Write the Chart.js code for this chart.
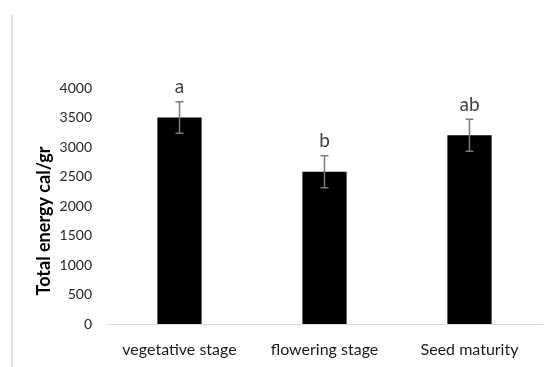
<!DOCTYPE html>
<html lang="en">
<head>
<meta charset="UTF-8">
<title>Total energy</title>
<script src="https://cdn.jsdelivr.net/npm/chart.js@4.4.0/dist/chart.umd.min.js"></script>
<style>
  html, body { margin: 0; padding: 0; background: #fff; }
  #wrap { width: 554px; height: 367px; }
</style>
</head>
<body>
<div id="wrap"><canvas id="energy"></canvas></div>
<script>
const stages = ['vegetative stage', 'flowering stage', 'Seed maturity'];
const energy = [3500, 2580, 3200];
const energyErr = [265, 270, 270];
const groupLetters = ['a', 'b', 'ab'];
const yTicks = [0, 500, 1000, 1500, 2000, 2500, 3000, 3500, 4000];
const yTitle = 'Total energy cal/gr';

const extras = {
  id: 'extras',
  beforeDraw(chart) {
    const ctx = chart.ctx;
    ctx.save();
    ctx.strokeStyle = '#e2e2e2';
    ctx.lineWidth = 2;
    ctx.beginPath();
    ctx.moveTo(12, 15);
    ctx.lineTo(12, 367);
    ctx.stroke();
    // y axis title, sitting a little below the axis middle as in the original
    const y = chart.scales.y;
    ctx.translate(44, (y.top + y.bottom) / 2 + 15);
    ctx.rotate(-Math.PI / 2);
    ctx.fillStyle = '#000';
    ctx.font = 'bold 18px Lato';
    ctx.textAlign = 'center';
    ctx.textBaseline = 'middle';
    ctx.fillText(yTitle, 0, 0);
    ctx.restore();
  },
  afterDatasetsDraw(chart) {
    const ctx = chart.ctx;
    const meta = chart.getDatasetMeta(0);
    const y = chart.scales.y;
    ctx.save();
    meta.data.forEach((bar, i) => {
      const top = y.getPixelForValue(energy[i] + energyErr[i]);
      const bot = y.getPixelForValue(energy[i] - energyErr[i]);
      ctx.strokeStyle = '#7a7a7a';
      ctx.lineWidth = 1.5;
      ctx.beginPath();
      ctx.moveTo(bar.x, top);
      ctx.lineTo(bar.x, bot);
      ctx.moveTo(bar.x - 4, top);
      ctx.lineTo(bar.x + 4, top);
      ctx.moveTo(bar.x - 4, bot);
      ctx.lineTo(bar.x + 4, bot);
      ctx.stroke();
      ctx.fillStyle = '#404040';
      ctx.font = '19px Lato';
      ctx.textAlign = 'center';
      ctx.textBaseline = 'bottom';
      ctx.fillText(groupLetters[i], bar.x, top - 5);
    });
    ctx.restore();
  }
};

new Chart(document.getElementById('energy'), {
  type: 'bar',
  data: {
    labels: stages,
    datasets: [{
      data: energy,
      backgroundColor: '#000',
      barPercentage: 0.305,
      categoryPercentage: 1
    }]
  },
  options: {
    responsive: true,
    maintainAspectRatio: false,
    animation: false,
    layout: { padding: { left: 12, right: 12, top: 88, bottom: 3 } },
    plugins: { legend: { display: false }, tooltip: { enabled: false } },
    scales: {
      x: {
        afterFit(scale) { scale.height = 40; },
        grid: { display: false, drawTicks: false },
        border: { color: '#d9d9d9', width: 1 },
        ticks: { color: '#1a1a1a', font: { family: 'Lato', size: 16 }, padding: 16 }
      },
      y: {
        min: 0,
        max: 4000,
        afterBuildTicks(scale) { scale.ticks = yTicks.map(v => ({ value: v })); },
        afterFit(scale) { scale.width = 95; },
        grid: { display: false, drawTicks: false },
        border: { display: false },
        ticks: {
          color: '#262626',
          font: { family: 'Lato', size: 14 },
          padding: 15,
          callback: v => String(v)
        }
      }
    }
  },
  plugins: [extras]
});
</script>
</body>
</html>
